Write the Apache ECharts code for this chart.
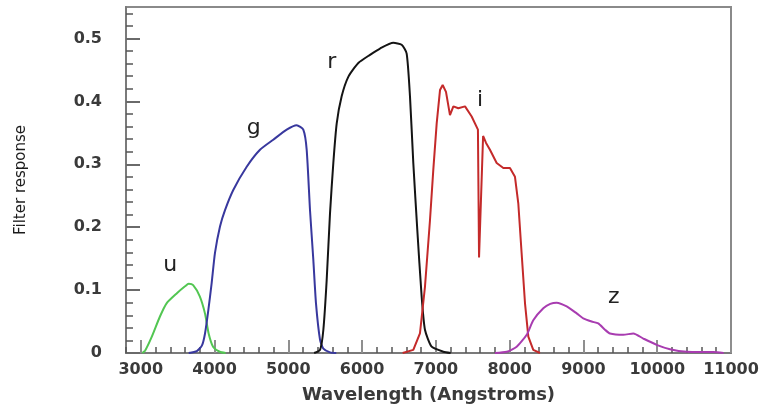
<!DOCTYPE html>
<html>
<head>
<meta charset="utf-8">
<script src="https://cdn.jsdelivr.net/npm/echarts@6/dist/echarts.min.js"></script>
<style>
html,body{margin:0;padding:0;background:#fff;}
#chart{width:768px;height:410px;}
</style>
</head>
<body>
<div id="chart"></div>
<script>
// ---- data (wavelength in Angstroms, filter response) ----
const uWave = [3020, 3060, 3150, 3260, 3350, 3490, 3600, 3650, 3710, 3800, 3870, 3920, 3980, 4070, 4150];
const uResp = [0, 0.004, 0.026, 0.058, 0.079, 0.095, 0.106, 0.110, 0.108, 0.090, 0.063, 0.031, 0.010, 0.002, 0];

const gWave = [3650, 3760, 3830, 3871, 3916, 3961, 4006, 4074, 4142, 4254, 4436, 4616, 4796, 4978, 5113, 5203, 5249, 5294, 5339, 5375, 5430, 5475, 5565, 5650];
const gResp = [0, 0.003, 0.012, 0.031, 0.068, 0.111, 0.159, 0.201, 0.227, 0.259, 0.296, 0.323, 0.339, 0.355, 0.362, 0.355, 0.323, 0.227, 0.148, 0.079, 0.021, 0.007, 0.001, 0];

const rWave = [5350, 5430, 5475, 5520, 5565, 5610, 5656, 5723, 5813, 5949, 6107, 6243, 6423, 6536, 6604, 6649, 6694, 6748, 6807, 6852, 6943, 7100, 7200];
const rResp = [0, 0.005, 0.037, 0.116, 0.222, 0.302, 0.365, 0.408, 0.439, 0.461, 0.474, 0.484, 0.493, 0.490, 0.476, 0.408, 0.302, 0.196, 0.090, 0.037, 0.010, 0.002, 0];

const iWave = [6550, 6694, 6784, 6852, 6920, 6965, 7011, 7056, 7092, 7137, 7191, 7237, 7304, 7395, 7485, 7570, 7585, 7605, 7640, 7680, 7733, 7824, 7914, 8004, 8072, 8117, 8162, 8208, 8253, 8320, 8411];
const iResp = [0, 0.005, 0.031, 0.105, 0.211, 0.291, 0.365, 0.418, 0.426, 0.415, 0.378, 0.392, 0.389, 0.392, 0.376, 0.355, 0.152, 0.155, 0.345, 0.334, 0.323, 0.302, 0.294, 0.294, 0.280, 0.238, 0.159, 0.079, 0.026, 0.005, 0];

const zWave = [7800, 7960, 8095, 8231, 8320, 8456, 8550, 8637, 8773, 8908, 8998, 9111, 9201, 9292, 9360, 9540, 9676, 9811, 9992, 10173, 10399, 10760, 10900];
const zResp = [0, 0.002, 0.010, 0.029, 0.052, 0.071, 0.078, 0.080, 0.074, 0.063, 0.055, 0.050, 0.047, 0.037, 0.031, 0.029, 0.031, 0.023, 0.013, 0.006, 0.002, 0.0015, 0];

const xTicks = [3000, 4000, 5000, 6000, 7000, 8000, 9000, 10000, 11000];
const yTicks = [0, 0.1, 0.2, 0.3, 0.4, 0.5];
const filterNames = ['u', 'g', 'r', 'i', 'z'];
// annotation anchor positions (data space)
const labelAnchors = {u: [3400, 0.140], g: [4530, 0.357], r: [5590, 0.462], i: [7600, 0.402], z: [9410, 0.088]};

// ---- helpers ----
const xMinor = [];
for (let v = 2800; v <= 11000; v += 200) { if (v % 1000 !== 0) xMinor.push(v); }
const yMinor = [];
for (let i = 1; i <= 27; i++) { if (i % 5 !== 0) yMinor.push(Math.round(i * 2) / 100); }

const pairs = (xs, ys) => xs.map((x, k) => [x, ys[k]]);
const series = {u: pairs(uWave, uResp), g: pairs(gWave, gResp), r: pairs(rWave, rResp), i: pairs(iWave, iResp), z: pairs(zWave, zResp)};
const colors = {u: '#52c652', g: '#38389e', r: '#141414', i: '#c42a2a', z: '#a83cb0'};
const smoothing = {u: 0.2, g: 0.2, r: 0.2, i: false, z: 0.2};

const font = 'DejaVu Sans';
const chart = echarts.init(document.getElementById('chart'));

chart.setOption({
  animation: false,
  backgroundColor: '#ffffff',
  grid: {left: 126, right: 37, top: 7, bottom: 57, show: true, borderColor: '#8a8a8a', borderWidth: 2, backgroundColor: 'transparent'},
  xAxis: [
    {
      type: 'value', min: 2800, max: 11000, position: 'bottom',
      axisLine: {show: true, lineStyle: {color: '#7a7a7a', width: 2}},
      axisTick: {show: true, inside: true, length: 13, customValues: xTicks, lineStyle: {color: '#8f8f8f', width: 2}},
      axisLabel: {customValues: xTicks, formatter: v => String(v), fontFamily: font, fontWeight: 'bold', fontSize: 16, color: '#3a3a3a', margin: 9},
      splitLine: {show: false},
      name: 'Wavelength (Angstroms)', nameLocation: 'middle', nameGap: 33,
      nameTextStyle: {fontFamily: font, fontWeight: 'bold', fontSize: 18, color: '#3a3a3a'}
    },
    {
      type: 'value', min: 2800, max: 11000, position: 'bottom',
      axisLine: {show: false},
      axisTick: {show: true, inside: true, length: 6, customValues: xMinor, lineStyle: {color: '#555', width: 1.5}},
      axisLabel: {show: false}, splitLine: {show: false}
    }
  ],
  yAxis: [
    {
      type: 'value', min: 0, max: 0.55, position: 'left',
      axisLine: {show: true, lineStyle: {color: '#7a7a7a', width: 2}},
      axisTick: {show: true, inside: true, length: 14, customValues: yTicks, lineStyle: {color: '#6a6a6a', width: 2}},
      axisLabel: {customValues: yTicks, formatter: v => String(v), fontFamily: font, fontWeight: 'bold', fontSize: 16, color: '#3a3a3a', margin: 24},
      splitLine: {show: false},
      name: 'Filter response', nameLocation: 'middle', nameGap: 97,
      nameTextStyle: {fontFamily: font, fontSize: 15, color: '#1a1a1a'}
    },
    {
      type: 'value', min: 0, max: 0.55, position: 'left',
      axisLine: {show: false},
      axisTick: {show: true, inside: true, length: 7, customValues: yMinor, lineStyle: {color: '#555', width: 1.5}},
      axisLabel: {show: false}, splitLine: {show: false}
    }
  ],
  series: filterNames.map(n => ({
    name: n, type: 'line', xAxisIndex: 0, yAxisIndex: 0,
    data: series[n], showSymbol: false, smooth: smoothing[n],
    lineStyle: {color: colors[n], width: 2},
    z: 3,
    markPoint: {
      silent: true, symbol: 'circle', symbolSize: 0,
      label: {show: true, position: 'inside', formatter: n, fontFamily: font, fontSize: 22, color: '#222'},
      data: [{coord: labelAnchors[n]}]
    }
  }))
});
</script>
</body>
</html>
